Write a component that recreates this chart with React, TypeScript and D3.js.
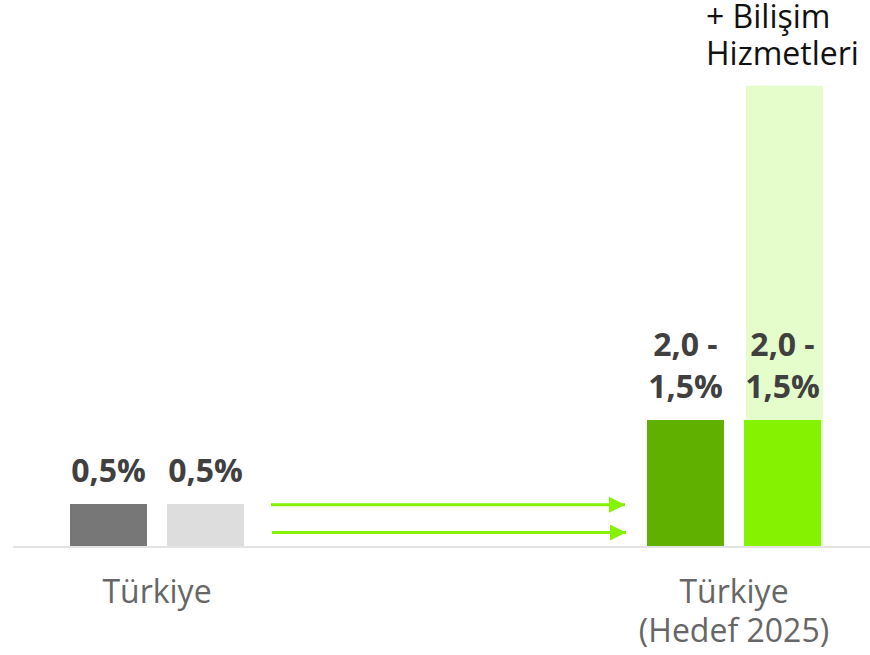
import React from "react";
import * as d3 from "d3";

const groups = ["Türkiye", "Türkiye (Hedef 2025)"];
const groupLabels = [["Türkiye"], ["Türkiye", "(Hedef 2025)"]];
const seriesKeys = ["base", "services"];
const values = [
  [0.5, 0.5],
  [1.5, 1.5],
];
const valueLabels = [
  [["0,5%"], ["0,5%"]],
  [["2,0 -", "1,5%"], ["2,0 -", "1,5%"]],
];
const barColors = [
  ["#777777", "#dddddd"],
  ["#60b000", "#84f200"],
];
const highlightValue = 5.48;
const highlightTitle = ["+ Bilişim", "Hizmetleri"];

const W = 870;
const H = 655;
const baseY = 546;
const FONT = "'Open Sans', sans-serif";

export default function App() {
  const x0 = d3.scaleBand().domain(groups).range([70, 821]).paddingInner(0.6984).paddingOuter(0);
  const x1 = d3.scaleBand().domain(seriesKeys).range([0, x0.bandwidth()]).paddingInner(0.2062).paddingOuter(0);
  const y = d3.scaleLinear().domain([0, 5.5]).range([baseY, baseY - 84 * 5.5]);

  const hx = (x0(groups[1]) as number) + (x1(seriesKeys[1]) as number) + 2;
  const arrowStart = (x0(groups[0]) as number) + x0.bandwidth() + 27;
  const arrowEnd = (x0(groups[1]) as number) - 22;
  const arrowYs = [y(0.49), y(0.16)];

  return (
    <svg width={W} height={H} style={{ position: "absolute", left: 0, top: 0 }}>
      <defs>
        <marker id="ah" viewBox="0 0 10 10" refX="10" refY="5" markerWidth="16" markerHeight="16" markerUnits="userSpaceOnUse" orient="auto">
          <path d="M0,0 L10,5 L0,10 z" fill="#84f200" />
        </marker>
      </defs>
      <rect x={hx} y={y(highlightValue)} width={x1.bandwidth()} height={baseY - y(highlightValue)} fill="#e5fdcb" />
      {groups.map((g, gi) =>
        seriesKeys.map((s, si) => {
          const bx = (x0(g) as number) + (x1(s) as number);
          const v = values[gi][si];
          const lines = valueLabels[gi][si];
          return (
            <g key={g + s}>
              <rect x={bx} y={y(v)} width={x1.bandwidth()} height={baseY - y(v)} fill={barColors[gi][si]} />
              {lines.map((t, li) => (
                <text
                  key={li}
                  x={bx + x1.bandwidth() / 2}
                  y={y(v) - 22 - (lines.length - 1 - li) * 42}
                  textAnchor="middle"
                  fontFamily={FONT}
                  fontWeight={700}
                  fontSize={32}
                  fill="#404040"
                >
                  {t}
                </text>
              ))}
            </g>
          );
        })
      )}
      <line x1={13} x2={W} y1={baseY + 1} y2={baseY + 1} stroke="#e3e3e3" strokeWidth={2} />
      {arrowYs.map((ay, i) => (
        <line key={i} x1={arrowStart + i} x2={arrowEnd + i} y1={ay} y2={ay} stroke="#84f200" strokeWidth={3} markerEnd="url(#ah)" />
      ))}
      {groups.map((g, gi) =>
        groupLabels[gi].map((t, li) => (
          <text
            key={g + li}
            x={(x0(g) as number) + x0.bandwidth() / 2}
            y={603 + li * 39}
            textAnchor="middle"
            fontFamily={FONT}
            fontSize={32}
            fill="#666666"
          >
            {t}
          </text>
        ))
      )}
      {highlightTitle.map((t, i) => (
        <text key={i} x={706} y={28 + i * 37} fontFamily={FONT} fontSize={32} fill="#111111">
          {t}
        </text>
      ))}
    </svg>
  );
}
